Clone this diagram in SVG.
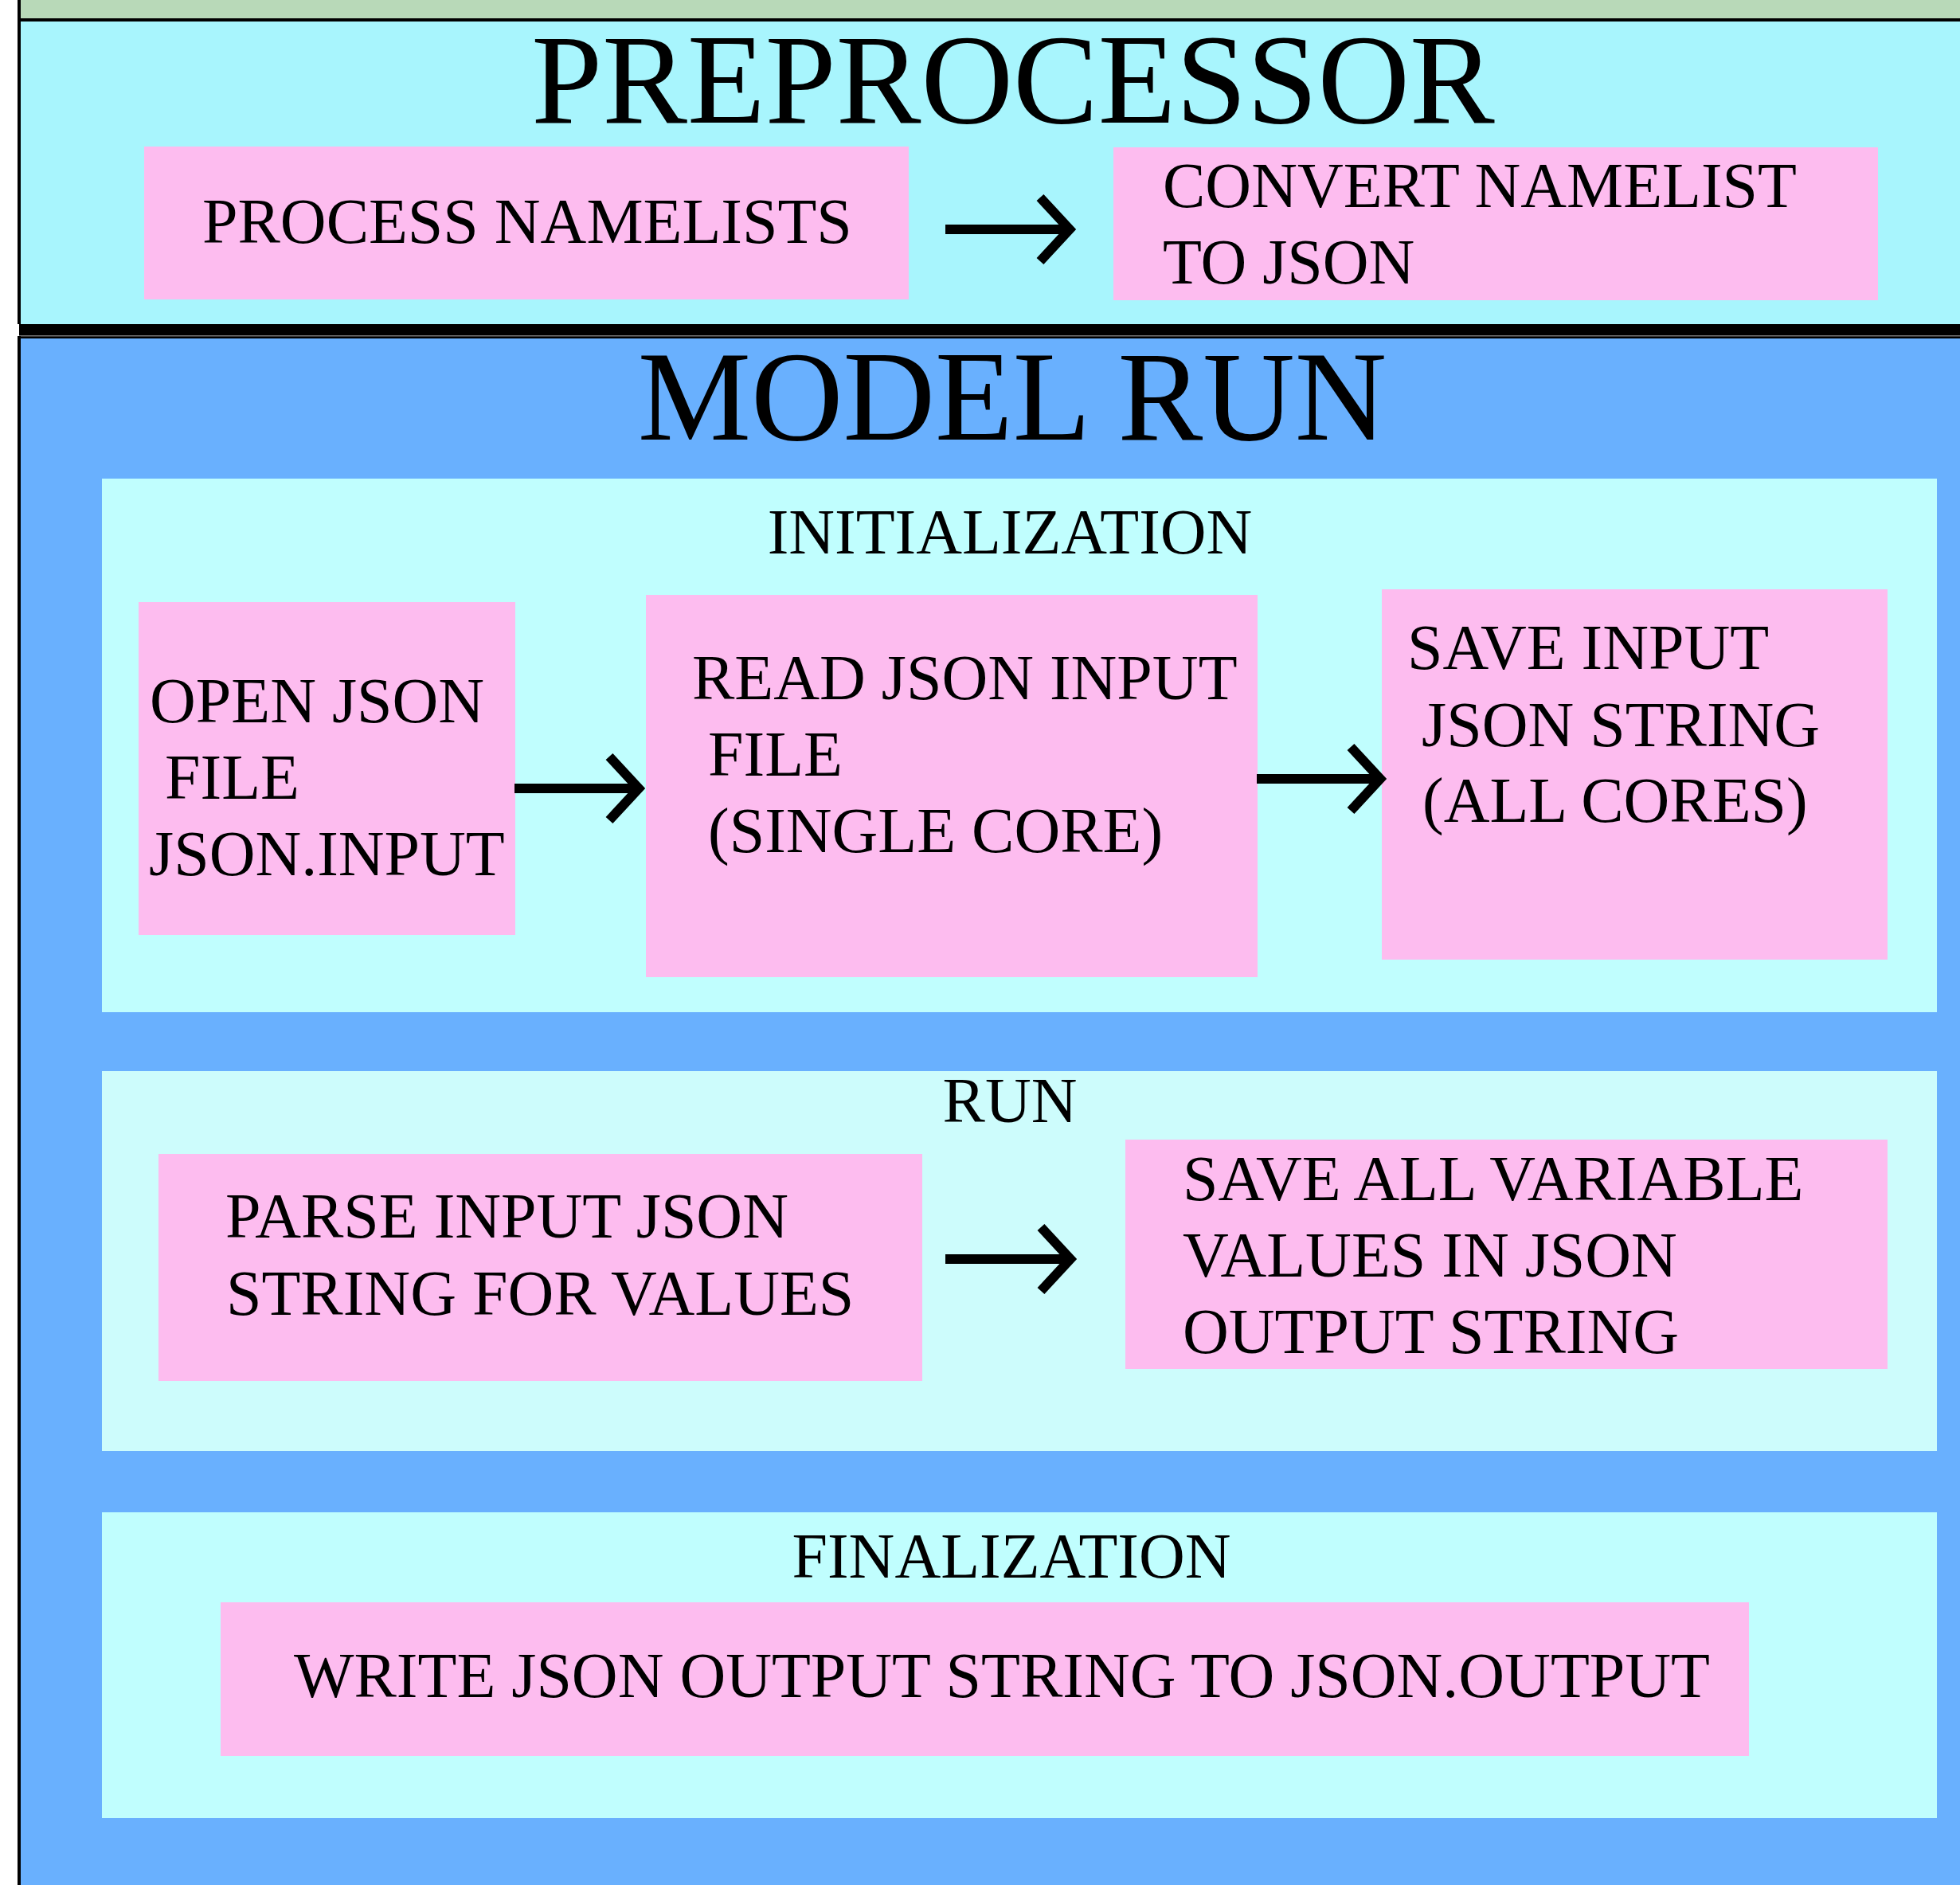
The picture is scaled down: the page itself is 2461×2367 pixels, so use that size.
<svg xmlns="http://www.w3.org/2000/svg" width="2461" height="2367" viewBox="0 0 2461 2367">
  <style>
    text { font-family: "Liberation Serif", "Times New Roman", serif; fill: #000; }
    .title { font-size: 160px; text-anchor: middle; }
    .head { font-size: 80px; text-anchor: middle; }
    .lbl { font-size: 80px; }
    .box { fill: #fdbcef; }
    .conn { stroke: #000; stroke-width: 12; fill: none; stroke-linecap: butt; }
  </style>
  <defs>
    <marker id="ah" markerUnits="userSpaceOnUse" viewBox="-60 -50 80 100" refX="0" refY="0" markerWidth="80" markerHeight="100" orient="auto">
      <path d="M-37,-40 L0,0 L-37,40" fill="none" stroke="#000" stroke-width="12" stroke-linejoin="miter" stroke-miterlimit="10"/>
    </marker>
  </defs>

  <rect x="0" y="0" width="2461" height="2367" fill="#ffffff"/>

  <g id="frame">
    <rect x="24" y="0" width="2437" height="25" fill="#b8d9b8"/>
    <rect x="24" y="25" width="2437" height="382" fill="#a8f5fd"/>
    <rect x="24" y="23" width="2437" height="4" fill="#000"/>
    <rect x="22" y="0" width="4" height="407" fill="#000"/>
    <rect x="24" y="407" width="2437" height="18" fill="#000"/>
    <rect x="24" y="421" width="2437" height="1.5" fill="#777"/>
    <rect x="24" y="425" width="2437" height="1942" fill="#69b0fe"/>
    <rect x="22" y="422" width="4" height="1945" fill="#000"/>
  </g>

  <g id="preprocessor">
    <text class="title" x="1272" y="154">PREPROCESSOR</text>
    <g id="process-namelists">
      <rect class="box" x="181" y="184" width="960" height="192"/>
      <text class="lbl" x="254" y="305">PROCESS NAMELISTS</text>
    </g>
    <g id="convert-namelist">
      <rect class="box" x="1398" y="185" width="960" height="192"/>
      <text class="lbl" x="1460" y="260">CONVERT NAMELIST</text>
      <text class="lbl" x="1460" y="356">TO JSON</text>
    </g>
  </g>

  <g id="model-run">
    <text class="title" x="1271" y="552">MODEL RUN</text>

    <g id="initialization">
      <rect x="128" y="601" width="2304" height="670" fill="#c0fefe"/>
      <text class="head" x="1268" y="695">INITIALIZATION</text>
      <g id="open-json">
        <rect class="box" x="174" y="756" width="473" height="418"/>
        <text class="lbl" x="188" y="907">OPEN JSON</text>
        <text class="lbl" x="207" y="1003">FILE</text>
        <text class="lbl" x="187" y="1099">JSON.INPUT</text>
      </g>
      <g id="read-json">
        <rect class="box" x="811" y="747" width="768" height="480"/>
        <text class="lbl" x="869" y="878">READ JSON INPUT</text>
        <text class="lbl" x="889" y="974">FILE</text>
        <text class="lbl" x="889" y="1070">(SINGLE CORE)</text>
      </g>
      <g id="save-input">
        <rect class="box" x="1735" y="740" width="635" height="465"/>
        <text class="lbl" x="1767" y="840">SAVE INPUT</text>
        <text class="lbl" x="1785" y="937">JSON STRING</text>
        <text class="lbl" x="1786" y="1032">(ALL CORES)</text>
      </g>
    </g>

    <g id="run">
      <rect x="128" y="1345" width="2304" height="477" fill="#cdfcfc"/>
      <text class="head" x="1268" y="1409">RUN</text>
      <g id="parse-input">
        <rect class="box" x="199" y="1449" width="959" height="285"/>
        <text class="lbl" x="283" y="1554">PARSE INPUT JSON</text>
        <text class="lbl" x="284" y="1651">STRING FOR VALUES</text>
      </g>
      <g id="save-all">
        <rect class="box" x="1413" y="1431" width="957" height="288"/>
        <text class="lbl" x="1485" y="1507">SAVE ALL VARIABLE</text>
        <text class="lbl" x="1485" y="1603">VALUES IN JSON</text>
        <text class="lbl" x="1485" y="1699">OUTPUT STRING</text>
      </g>
    </g>

    <g id="finalization">
      <rect x="128" y="1899" width="2304" height="384" fill="#c0fefe"/>
      <text class="head" x="1270" y="1981">FINALIZATION</text>
      <g id="write-json">
        <rect class="box" x="277" y="2012" width="1919" height="193"/>
        <text class="lbl" x="369" y="2131">WRITE JSON OUTPUT STRING TO JSON.OUTPUT</text>
      </g>
    </g>
  </g>

  <g id="connectors">
    <path class="conn" d="M1187,288 H1343" marker-end="url(#ah)"/>
    <path class="conn" d="M646,990 H802" marker-end="url(#ah)"/>
    <path class="conn" d="M1578,978 H1733" marker-end="url(#ah)"/>
    <path class="conn" d="M1187,1581 H1344" marker-end="url(#ah)"/>
  </g>
</svg>
